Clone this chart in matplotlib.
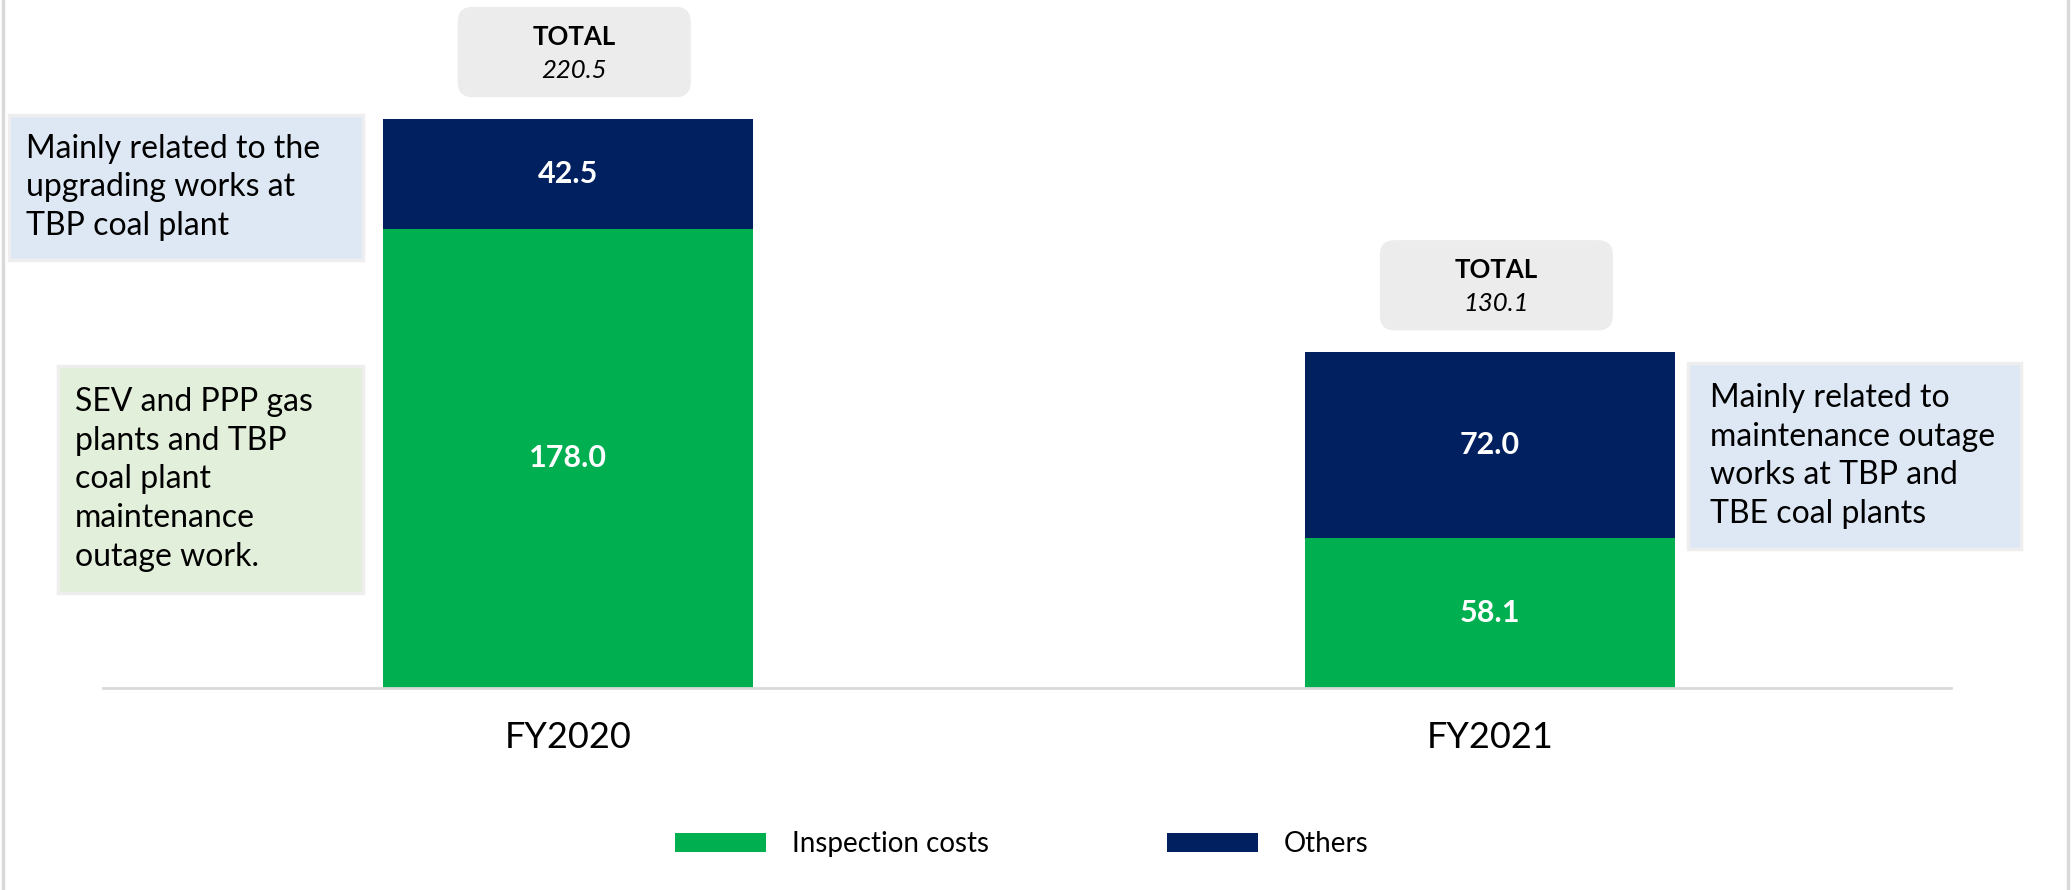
import numpy as np
import matplotlib.pyplot as plt
from matplotlib.patches import Rectangle, FancyBboxPatch, Patch
from matplotlib.lines import Line2D

plt.rcParams['font.family'] = ['Lato', 'DejaVu Sans']

years = ['FY2020', 'FY2021']
inspection = [178.0, 58.1]
others = [42.5, 72.0]
totals = [220.5, 130.1]

green = '#00b050'
navy = '#002060'

W, H = 2071, 890
fig = plt.figure(figsize=(W / 100, H / 100), dpi=100)
fig.patch.set_facecolor('white')

# axes: baseline at y=688px, spanning to the top of the figure
ax = fig.add_axes([103 / W, (H - 688) / H, 1848 / W, 688 / H])
ax.set_xlim(-0.504, 1.5)
ax.set_ylim(0, 688 / 2.58)

x = np.arange(len(years))
bw = 0.401
ax.bar(x, inspection, bw, color=green, zorder=2)
ax.bar(x, others, bw, bottom=inspection, color=navy, zorder=2)

for i in range(len(years)):
    ax.text(x[i], inspection[i] / 2, f'{inspection[i]:.1f}', ha='center', va='center',
            color='white', fontsize=22, fontweight='bold', zorder=3)
    ax.text(x[i], inspection[i] + others[i] / 2, f'{others[i]:.1f}', ha='center', va='center',
            color='white', fontsize=22, fontweight='bold', zorder=3)

    # rounded grey total box above each bar
    bx_w = 233 / 922
    bx_h = 35
    box = FancyBboxPatch((x[i] - bx_w / 2 + 0.007, totals[i] + 8.5), bx_w, bx_h,
                         boxstyle='round,pad=0,rounding_size=0.0163', mutation_aspect=357,
                         facecolor='#ececec', edgecolor='none', clip_on=False, zorder=2)
    ax.add_patch(box)
    ax.text(x[i] + 0.007, totals[i] + 32, 'TOTAL', ha='center', va='center',
            fontsize=18.5, fontweight='bold', color='black', clip_on=False)
    ax.text(x[i] + 0.007, totals[i] + 19, f'{totals[i]:.1f}', ha='center', va='center',
            fontsize=18.5, style='italic', color='black', clip_on=False)

ax.set_xticks(x)
ax.set_xticklabels(years, fontsize=26)
ax.tick_params(axis='x', length=0, pad=24)
ax.set_yticks([])
for s in ['top', 'right', 'left']:
    ax.spines[s].set_visible(False)
ax.spines['bottom'].set_color('#d9d9d9')
ax.spines['bottom'].set_linewidth(2)
ax.set_facecolor('none')


def note(x0, y0, x1, y1, fill, txt, tx):
    # box given in pixel coords measured from the top-left corner
    r = Rectangle((x0 / W, 1 - y1 / H), (x1 - x0) / W, (y1 - y0) / H,
                  transform=fig.transFigure, facecolor=fill, edgecolor='#eeeeee',
                  linewidth=2.5, zorder=1)
    fig.add_artist(r)
    fig.text(tx / W, 1 - (y0 + y1) / 2 / H, txt, ha='left', va='center',
             fontsize=23, linespacing=1.36, color='black')


note(9, 115, 363, 260, '#dee8f4',
     'Mainly related to the\nupgrading works at\nTBP coal plant', 26)
note(58, 366, 363, 593, '#e2efda',
     'SEV and PPP gas\nplants and TBP\ncoal plant\nmaintenance\noutage work.', 75)
note(1688, 363, 2021, 549, '#dee8f4',
     'Mainly related to\nmaintenance outage\nworks at TBP and\nTBE coal plants', 1710)

# thin frame lines at the sides
fig.add_artist(Line2D([3 / W, 3 / W], [0, 1], transform=fig.transFigure, color='#d9d9d9', lw=2.5))
fig.add_artist(Line2D([2068 / W, 2068 / W], [0, 1], transform=fig.transFigure, color='#d9d9d9', lw=2.5))

handles = [Patch(facecolor=green, label='Inspection costs'),
           Patch(facecolor=navy, label='Others')]
fig.legend(handles=handles, loc='center left', bbox_to_anchor=(675 / W, 1 - 844 / H),
           ncol=2, frameon=False, fontsize=20, handlelength=3.27, handleheight=0.68,
           handletextpad=0.94, columnspacing=6.4, borderpad=0, borderaxespad=0)

fig.savefig('out.png', dpi=100)
